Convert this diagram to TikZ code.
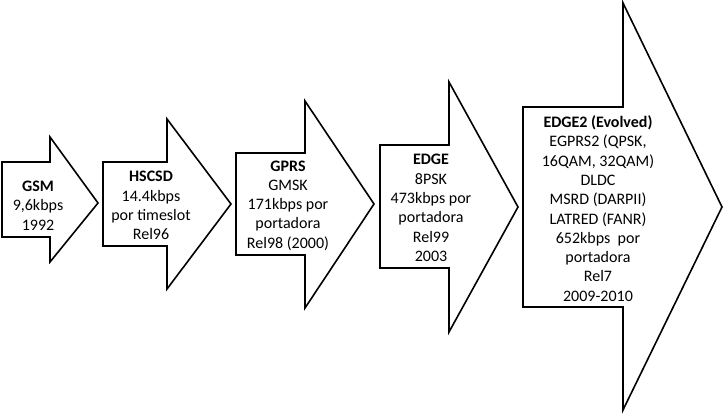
\documentclass[tikz,border=0pt]{standalone}
\usepackage{fontspec}
\setmainfont{Carlito}
\begin{document}
\begin{tikzpicture}[x=1pt,y=-1pt,
  arrowshape/.style={draw=black,line width=1.6pt,fill=white,line join=miter},
  label/.style={align=center,font=\fontsize{16}{19.3}\selectfont,inner sep=0pt,text=black}]
\useasboundingbox (0,0) rectangle (724,414);
% GSM
\draw[arrowshape] (2,162) -- (50,162) -- (50,137) -- (98,203) -- (50,262) -- (50,237) -- (2,237) -- cycle;
\node[label] (gsm) at (38,205.5) {\textbf{GSM}\\9,6kbps\\1992};
% HSCSD
\draw[arrowshape] (103,162) -- (167,162) -- (167,119) -- (231,204) -- (167,289) -- (167,246) -- (103,246) -- cycle;
\node[label] (hscsd) at (151,205.5) {\textbf{HSCSD}\\14.4kbps\\por timeslot\\Rel96};
% GPRS
\draw[arrowshape] (236,153) -- (305,153) -- (305,101) -- (374,204) -- (305,308) -- (305,255) -- (236,255) -- cycle;
\node[label] (gprs) at (288,205.5) {\textbf{GPRS}\\GMSK\\171kbps por\\portadora\\Rel98 (2000)};
% EDGE
\draw[arrowshape] (380,145) -- (449,145) -- (449,82) -- (518,207) -- (449,332) -- (449,268) -- (380,268) -- cycle;
\node[label] (edge) at (431,208) {\textbf{EDGE}\\8PSK\\473kbps por\\portadora\\Rel99\\2003};
% EDGE2
\draw[arrowshape] (523,107) -- (623,107) -- (623,3) -- (722,207) -- (623,410) -- (623,307) -- (523,307) -- cycle;
\node[label] (edgetwo) at (598,208.5) {\textbf{EDGE2 (Evolved)}\\EGPRS2 (QPSK,\\16QAM, 32QAM)\\DLDC\\MSRD (DARPII)\\LATRED (FANR)\\652kbps\ \ por\\portadora\\Rel7\\2009-2010};
\end{tikzpicture}
\end{document}
